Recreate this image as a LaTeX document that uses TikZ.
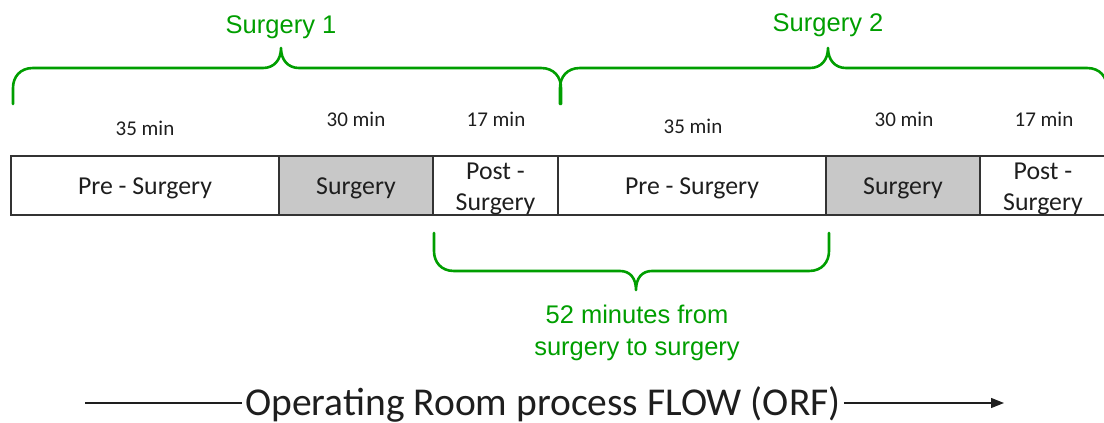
\documentclass[tikz,border=0pt]{standalone}
\usepackage{fontspec}
\setmainfont{Carlito}
\newfontfamily\arialf{Liberation Sans}
\usetikzlibrary{arrows.meta}
\definecolor{sgreen}{RGB}{0,158,0}
\definecolor{sgray}{RGB}{200,200,200}
\definecolor{txt}{RGB}{30,30,30}
\begin{document}
\begin{tikzpicture}[x=1pt,y=-1pt,
  seg/.style={draw=black!80, line width=1.2pt, rectangle, minimum height=59pt, inner sep=0pt},
  segtext/.style={text=txt, font=\fontsize{25.8}{31}\selectfont, align=center, inner sep=0pt, yshift=-3pt},
  dur/.style={text=txt, font=\fontsize{21}{25}\selectfont, inner sep=0pt},
  glabel/.style={text=sgreen, font=\arialf\fontsize{25.5}{32}\selectfont, align=center, inner sep=0pt},
  brace/.style={draw=sgreen, line width=2.6pt, line join=round, line cap=round},
  flow/.style={draw=txt, line width=1.2pt}]
\useasboundingbox (0,0) rectangle (1104,423);
\begin{scope}
\clip (0,0) rectangle (1104,423);
% boxes
\node[seg, minimum width=268pt] (b1) at (145,185.5) {};
\node[seg, minimum width=154pt, fill=sgray] (b2) at (356,185.5) {};
\node[seg, minimum width=125pt] (b3) at (495.5,185.5) {};
\node[seg, minimum width=268pt] (b4) at (692,185.5) {};
\node[seg, minimum width=154pt, fill=sgray] (b5) at (903,185.5) {};
\node[seg, minimum width=126pt] (b6) at (1043,185.5) {};
\node[segtext] (t1) at (b1.center) {Pre - Surgery};
\node[segtext] (t2) at (b2.center) {Surgery};
\node[segtext] (t3) at (b3.center) {Post -\\Surgery};
\node[segtext] (t4) at (b4.center) {Pre - Surgery};
\node[segtext] (t5) at (b5.center) {Surgery};
\node[segtext] (t6) at (b6.center) {Post -\\Surgery};
% durations
\node[dur] (d1) at (145,128) {35 min};
\node[dur] (d2) at (356,119) {30 min};
\node[dur] (d3) at (496,119) {17 min};
\node[dur] (d4) at (693,126) {35 min};
\node[dur] (d5) at (904,119) {30 min};
\node[dur] (d6) at (1044,119) {17 min};
% braces
\draw[brace] (13,104) -- (13,88) .. controls (13,77) and (20,68) .. (33,68) -- (263,68)
  .. controls (274,68) and (281,60) .. (281,48) .. controls (281,60) and (288,68) .. (299,68)
  -- (541,68) .. controls (554,68) and (561,77) .. (561,88) -- (561,104);
\draw[brace] (560,104) -- (560,88) .. controls (560,77) and (567,68) .. (580,68) -- (810,68)
  .. controls (821,68) and (828,60) .. (828,48) .. controls (828,60) and (835,68) .. (846,68)
  -- (1087,68) .. controls (1100,68) and (1107,77) .. (1107,88) -- (1107,104);
\draw[brace] (434,233) -- (434,251) .. controls (434,262) and (441,271) .. (454,271) -- (620,271)
  .. controls (630,271) and (636,278) .. (636,290) .. controls (636,278) and (642,271) .. (652,271)
  -- (809,271) .. controls (822,271) and (829,262) .. (829,251) -- (829,233);
\node[glabel] (s1) at (281,27) {Surgery 1};
\node[glabel] (s2) at (828,25) {Surgery 2};
\node[glabel] (gap) at (637,333) {52 minutes from\\surgery to surgery};
% flow
\node[text=txt, font=\fontsize{39.5}{44}\selectfont, inner sep=3pt, anchor=base] (orf) at (543,415) {Operating Room process FLOW (ORF)};
\coordinate (fs) at (85,403);
\coordinate (fe) at (1004,403);
\draw[flow] (fs) -- (fs -| orf.west);
\draw[flow, -{Triangle[length=13pt,width=10pt]}] (fe -| orf.east) -- (fe);
\end{scope}
\end{tikzpicture}
\end{document}
